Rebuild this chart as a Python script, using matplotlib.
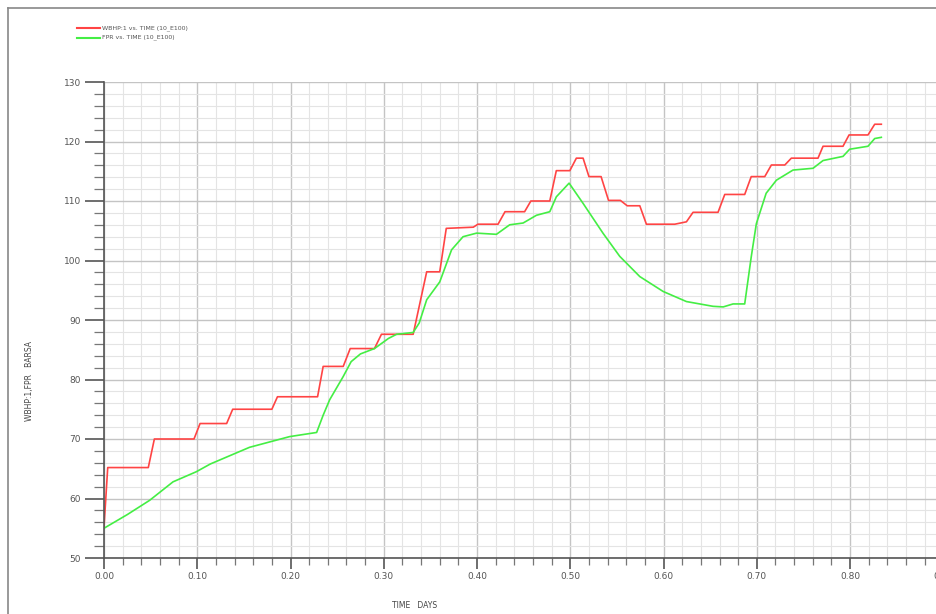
import matplotlib.pyplot as plt
from matplotlib.ticker import MultipleLocator, FormatStrFormatter
from matplotlib.lines import Line2D

# WBHP:1 (well bottom-hole pressure), BARSA
t_wbhp = [0.0, 0.004, 0.0475, 0.054, 0.0965, 0.103, 0.1315, 0.138, 0.18, 0.186,
          0.229, 0.235, 0.2565, 0.264, 0.29, 0.2975, 0.3315, 0.346, 0.36, 0.367,
          0.396, 0.401, 0.4225, 0.43, 0.451, 0.4577, 0.478, 0.485, 0.4995, 0.5065,
          0.5137, 0.52, 0.533, 0.541, 0.5537, 0.561, 0.5745, 0.5816, 0.612, 0.6245,
          0.6316, 0.6584, 0.6656, 0.687, 0.694, 0.7085, 0.7156, 0.73, 0.737, 0.7656,
          0.771, 0.7924, 0.7989, 0.8192, 0.8264, 0.8335]
wbhp = [55.2, 65.2, 65.2, 70.0, 70.0, 72.6, 72.6, 75.0, 75.0, 77.1,
        77.1, 82.2, 82.2, 85.2, 85.2, 87.6, 87.6, 98.1, 98.1, 105.4,
        105.6, 106.1, 106.1, 108.2, 108.2, 110.0, 110.0, 115.1, 115.1, 117.2,
        117.2, 114.1, 114.1, 110.1, 110.1, 109.2, 109.2, 106.1, 106.1, 106.5,
        108.1, 108.1, 111.1, 111.1, 114.1, 114.1, 116.05, 116.05, 117.2, 117.2,
        119.2, 119.2, 121.1, 121.1, 122.9, 122.9]

# FPR (field pressure), BARSA
t_fpr = [0.0, 0.025, 0.049, 0.074, 0.099, 0.114, 0.156, 0.199, 0.228, 0.235,
         0.242, 0.2565, 0.265, 0.275, 0.29, 0.305, 0.3137, 0.3315, 0.338, 0.346,
         0.36, 0.3727, 0.385, 0.3995, 0.4208, 0.435, 0.4494, 0.4637, 0.478, 0.485,
         0.4987, 0.5137, 0.535, 0.553, 0.5745, 0.5995, 0.6245, 0.653, 0.664, 0.6745,
         0.687, 0.694, 0.6995, 0.71, 0.721, 0.7388, 0.7603, 0.771, 0.7924, 0.7995,
         0.8192, 0.8264, 0.8335]
fpr = [55.0, 57.3, 59.7, 62.8, 64.5, 65.8, 68.6, 70.4, 71.1, 74.0,
       76.6, 80.5, 83.0, 84.3, 85.2, 86.9, 87.6, 87.9, 89.5, 93.4,
       96.4, 101.8, 104.0, 104.6, 104.4, 106.0, 106.3, 107.6, 108.2, 110.7,
       113.0, 109.6, 104.6, 100.7, 97.3, 94.8, 93.1, 92.3, 92.2, 92.7,
       92.7, 100.6, 106.2, 111.3, 113.5, 115.2, 115.5, 116.8, 117.5, 118.7,
       119.2, 120.5, 120.7]

red = '#ff4444'
green = '#44ee44'

fig = plt.figure(figsize=(9.36, 6.14), dpi=100)
ax = fig.add_axes([104 / 936, 56 / 614, 858 / 936, 476 / 614])

ax.plot(t_wbhp, wbhp, color=red, lw=1.2)
ax.plot(t_fpr, fpr, color=green, lw=1.2)

ax.set_xlim(0, 0.92)
ax.set_ylim(50, 130)

ax.xaxis.set_major_locator(MultipleLocator(0.1))
ax.xaxis.set_minor_locator(MultipleLocator(0.02))
ax.yaxis.set_major_locator(MultipleLocator(10))
ax.yaxis.set_minor_locator(MultipleLocator(2))
ax.xaxis.set_major_formatter(FormatStrFormatter('%.2f'))

ax.grid(which='major', color='#c4c4c4', lw=1.0)
ax.grid(which='minor', color='#e4e4e4', lw=0.8)
ax.set_axisbelow(True)

for s in ['top', 'right']:
    ax.spines[s].set_visible(False)
for s in ['left', 'bottom']:
    ax.spines[s].set_color('#555555')
    ax.spines[s].set_linewidth(1.2)

ax.tick_params(axis='y', which='major', direction='out', length=13.5, width=1.2,
               color='#555555', labelsize=6.5, labelcolor='#555555', pad=3)
ax.tick_params(axis='y', which='minor', direction='out', length=7, width=0.9,
               color='#777777')
ax.tick_params(axis='x', which='major', direction='out', length=8, width=1.2,
               color='#555555', labelsize=6.5, labelcolor='#555555', pad=2)
ax.tick_params(axis='x', which='minor', direction='out', length=5, width=0.9,
               color='#777777')

# axis titles
fig.text(415 / 936, 1 - 606 / 614, 'TIME   DAYS', fontsize=5.5, color='#444444',
         ha='center', va='center')
fig.text(30 / 936, 1 - 381 / 614, 'WBHP:1,FPR   BARSA', fontsize=5.5, color='#444444',
         ha='center', va='center', rotation=90)

# legend in the top-left corner
fig.add_artist(Line2D([77 / 936, 100 / 936], [1 - 28 / 614] * 2, color=red, lw=1.5))
fig.add_artist(Line2D([77 / 936, 100 / 936], [1 - 37.5 / 614] * 2, color=green, lw=1.5))
fig.text(102 / 936, 1 - 28 / 614, 'WBHP:1 vs. TIME (10_E100)', fontsize=4.5,
         color='#555555', va='center')
fig.text(102 / 936, 1 - 37.5 / 614, 'FPR vs. TIME (10_E100)', fontsize=4.5,
         color='#555555', va='center')

# outer frame
fig.add_artist(Line2D([8 / 936, 8 / 936], [0, 1 - 8 / 614], color='#888888', lw=1.2))
fig.add_artist(Line2D([8 / 936, 1], [1 - 8 / 614] * 2, color='#888888', lw=1.2))

fig.savefig('out.png', dpi=100)
